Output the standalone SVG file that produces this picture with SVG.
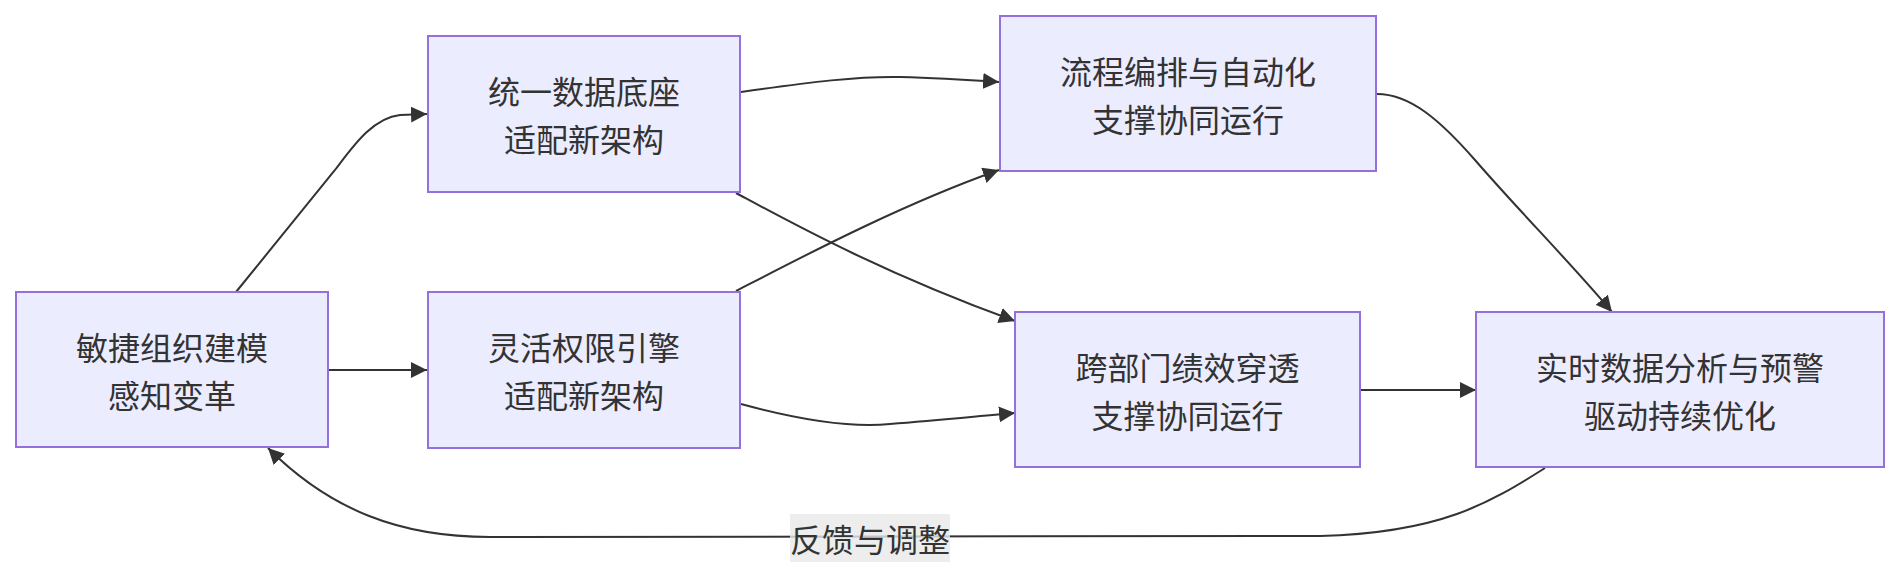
<svg xmlns="http://www.w3.org/2000/svg" width="1900" height="578" viewBox="0 0 1900 578">
<style>
.node rect{fill:#ECECFF;stroke:#9370DB;stroke-width:2}
.node text,.lbl text{font-family:"Noto Sans CJK SC","Noto Sans",sans-serif;font-size:32px;fill:#333;text-anchor:middle;dominant-baseline:central}
.edges path{fill:none;stroke:#333;stroke-width:2;marker-end:url(#arrow)}
</style>
<defs>
<marker id="arrow" viewBox="0 0 16 16" refX="16" refY="8" markerWidth="16" markerHeight="16" markerUnits="userSpaceOnUse" orient="auto"><path d="M0,0 L16,8 L0,16 z" fill="#333"/></marker>
</defs>
<rect width="1900" height="578" fill="#fff"/>
<g class="edges" id="connectors">
<path d="M236,292 L335,170 C352,148 372,118 400,115 L427,114"/>
<path d="M329,370 L427,370"/>
<path d="M741,92 C810,82 860,76 900,77 C940,78 970,80 999,82"/>
<path d="M736,193 C790,222 880,272 1015,321"/>
<path d="M736,291 C800,258 900,205 999,170"/>
<path d="M741,404 C800,420 850,428 890,424 C940,420 980,416 1015,413"/>
<path d="M1377,94 C1410,94 1440,120 1475,160 C1520,212 1570,262 1612,312"/>
<path d="M1360,390 L1476,390"/>
<path d="M1545,468 C1490,503 1440,533 1320,536 L490,537 C400,537 330,510 268,448"/>
</g>
<g class="lbl" id="label-feedback">
<rect x="790" y="514" width="160" height="48" fill="#e8e8e8" fill-opacity="0.8"/>
<text x="870" y="538">反馈与调整</text>
</g>
<g class="node" id="nodeA">
<rect x="16" y="292" width="312" height="155"/>
<text x="172" y="345.5">敏捷组织建模</text>
<text x="172" y="393.5">感知变革</text>
</g>
<g class="node" id="nodeB">
<rect x="428" y="36" width="312" height="156"/>
<text x="584" y="90">统一数据底座</text>
<text x="584" y="138">适配新架构</text>
</g>
<g class="node" id="nodeC">
<rect x="428" y="292" width="312" height="156"/>
<text x="584" y="346">灵活权限引擎</text>
<text x="584" y="394">适配新架构</text>
</g>
<g class="node" id="nodeD">
<rect x="1000" y="16" width="376" height="155"/>
<text x="1188" y="69.5">流程编排与自动化</text>
<text x="1188" y="117.5">支撑协同运行</text>
</g>
<g class="node" id="nodeE">
<rect x="1015" y="312" width="345" height="155"/>
<text x="1187.5" y="365.5">跨部门绩效穿透</text>
<text x="1187.5" y="413.5">支撑协同运行</text>
</g>
<g class="node" id="nodeF">
<rect x="1476" y="312" width="408" height="155"/>
<text x="1680" y="365.5">实时数据分析与预警</text>
<text x="1680" y="413.5">驱动持续优化</text>
</g>
</svg>
